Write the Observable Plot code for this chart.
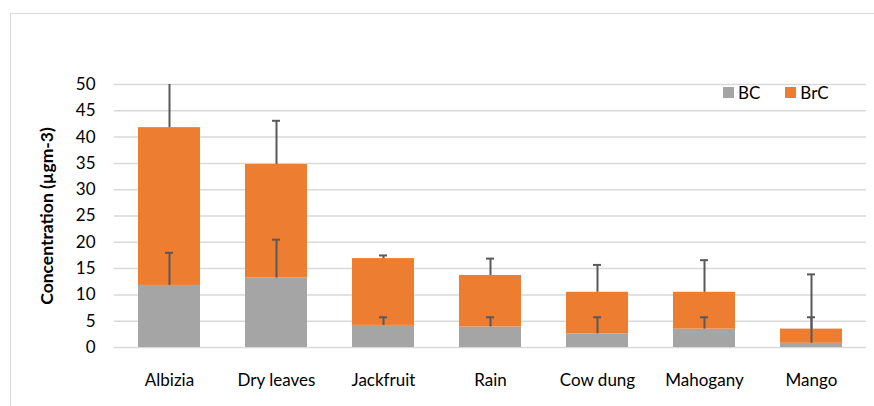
<!DOCTYPE html>
<html>
<head>
<meta charset="utf-8">
<script src="https://cdn.jsdelivr.net/npm/d3@7"></script>
<script src="https://cdn.jsdelivr.net/npm/@observablehq/plot@0.6"></script>
<style>
  html, body { margin: 0; padding: 0; background: #fff; }
  #wrap { position: relative; width: 874px; height: 406px; overflow: hidden; font-family: Lato, "Open Sans", sans-serif; }
  #frame { position: absolute; left: 10px; top: 13px; width: 900px; height: 500px; border: 1.5px solid #d9d9d9; box-sizing: border-box; }
  #chart { position: absolute; left: 0; top: 0; }
  .legend { position: absolute; top: 82px; left: 723px; display: flex; align-items: center; font-size: 17px; color: #000; }
  .legend .sw { width: 11px; height: 11px; display: inline-block; margin-right: 4px; }
  .legend .item { display: flex; align-items: center; margin-right: 25px; }
</style>
</head>
<body>
<div id="wrap">
  <div id="frame"></div>
  <div id="chart"></div>
  <div class="legend">
    <div class="item"><span class="sw" style="background:#a5a5a5"></span>BC</div>
    <div class="item"><span class="sw" style="background:#ed7d31"></span>BrC</div>
  </div>
</div>
<script>
const categories = ["Albizia", "Dry leaves", "Jackfruit", "Rain", "Cow dung", "Mahogany", "Mango"];
const bcValues   = [11.8, 13.2, 4.2, 3.9, 2.6, 3.5, 0.8];
const brcValues  = [30.0, 21.6, 12.7, 9.8, 7.9, 7.0, 2.7];
const bcErrors   = [6.2, 7.3, 1.55, 1.85, 3.15, 2.25, 4.95];
const totalErrors = [10.0, 8.3, 0.6, 3.2, 5.2, 6.1, 10.4];
const seriesNames = ["BC", "BrC"];
const seriesColors = ["#a5a5a5", "#ed7d31"];
const yTicks = [0, 5, 10, 15, 20, 25, 30, 35, 40, 45, 50];

const bars = [];
categories.forEach((c, i) => {
  bars.push({cat: c, series: "BC", value: bcValues[i]});
  bars.push({cat: c, series: "BrC", value: brcValues[i]});
});
const errs = [];
categories.forEach((c, i) => {
  errs.push({cat: c, y1: bcValues[i], y2: bcValues[i] + bcErrors[i]});
  const tot = bcValues[i] + brcValues[i];
  errs.push({cat: c, y1: tot, y2: tot + totalErrors[i]});
});

const errColor = "#595959";
const chart = Plot.plot({
  width: 874,
  height: 406,
  marginLeft: 114,
  marginRight: 8,
  marginTop: 84,
  marginBottom: 59,
  style: {fontFamily: "Lato, 'Open Sans', sans-serif", fontSize: "17px", color: "#000", background: "transparent"},
  x: {domain: categories, paddingInner: 0.42, paddingOuter: 0.21, label: null},
  y: {domain: [0, 50], label: null},
  color: {domain: seriesNames, range: seriesColors},
  marks: [
    Plot.gridY(yTicks, {stroke: "#d9d9d9", strokeOpacity: 1, strokeWidth: 1.5}),
    Plot.barY(bars, {x: "cat", y: "value", fill: "series", order: seriesNames}),
    Plot.ruleX(errs, {x: "cat", y1: "y1", y2: "y2", stroke: errColor, strokeWidth: 2, clip: true}),
    Plot.tickY(errs, {x: "cat", y: "y2", stroke: errColor, strokeWidth: 2, insetLeft: 27, insetRight: 27, clip: true}),
    Plot.axisY(yTicks, {tickSize: 0, tickPadding: 19, fontSize: 17, label: "Concentration (µgm-3)", labelAnchor: "center", labelArrow: "none", labelOffset: 74}),
    Plot.axisX({tickSize: 0, tickPadding: 26, fontSize: 17, label: null})
  ]
});
document.getElementById("chart").appendChild(chart);
// make y axis title bold
chart.querySelectorAll("[aria-label='y-axis label'] text").forEach(t => { t.style.fontWeight = "bold"; t.style.fontSize = "17.5px"; });
</script>
</body>
</html>
